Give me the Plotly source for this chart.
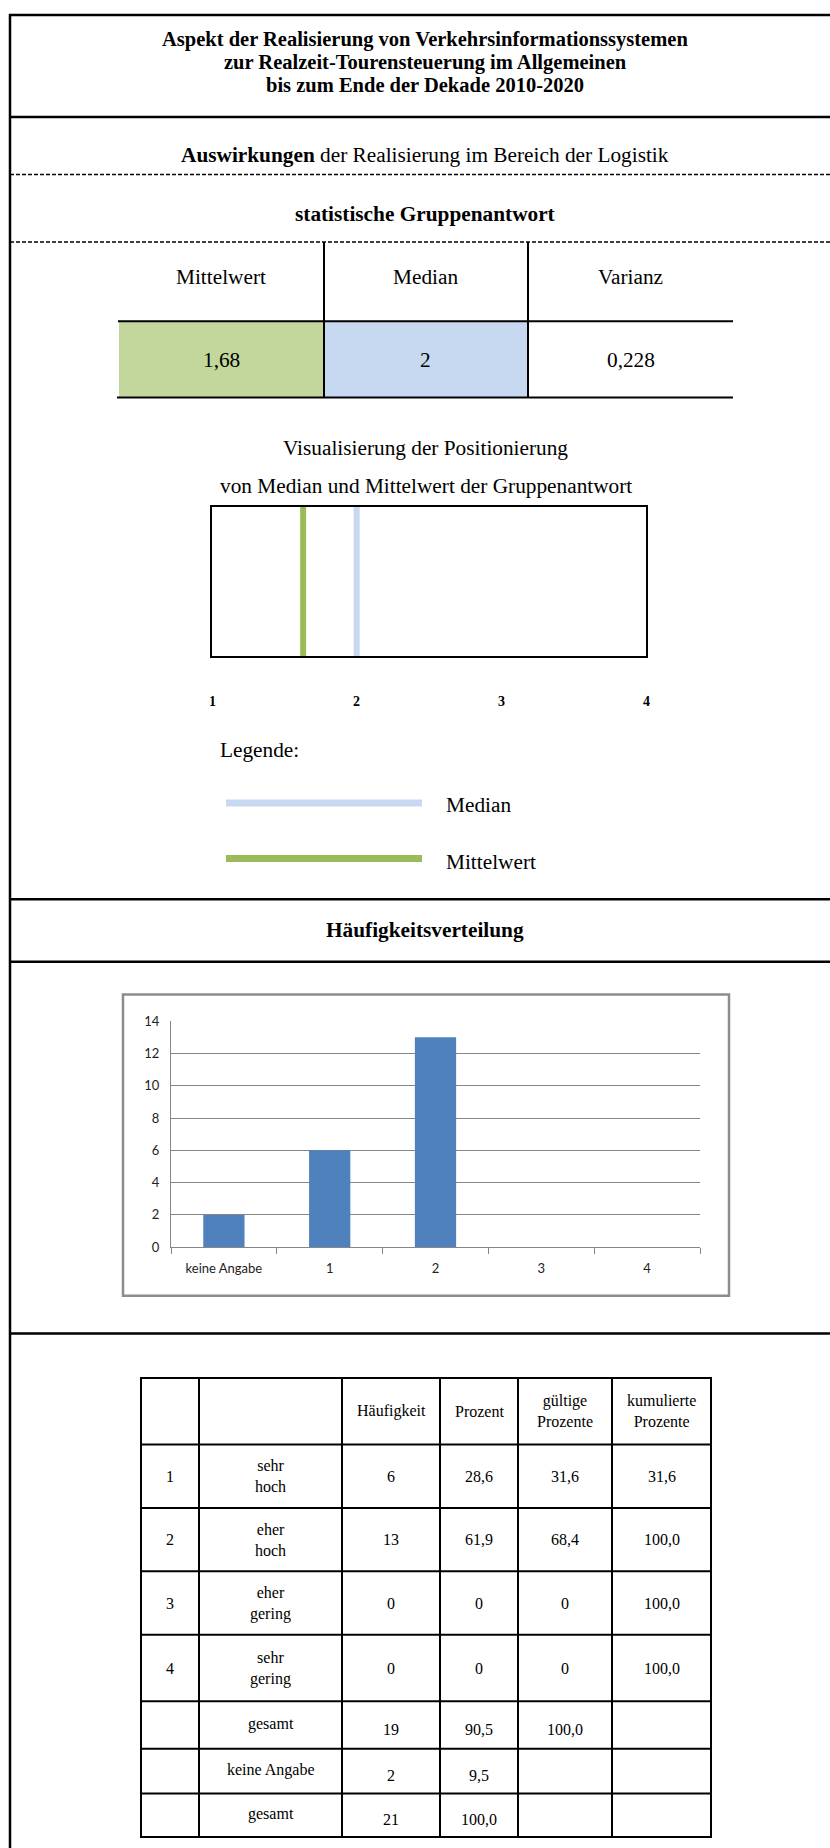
import plotly.graph_objects as go

# ---------------- data ----------------
title_lines = ["Aspekt der Realisierung von Verkehrsinformationssystemen",
               "zur Realzeit-Tourensteuerung im Allgemeinen",
               "bis zum Ende der Dekade 2010-2020"]
stat_names = ["Mittelwert", "Median", "Varianz"]
stat_texts = ["1,68", "2", "0,228"]
mean_marker = 1.63      # position of the green mean line as drawn in the picture
median_marker = 2.0     # position of the blue median line
scale_ticks = [1, 2, 3, 4]

categories = ["keine Angabe", "1", "2", "3", "4"]
counts = [2, 6, 13, 0, 0]

table_header = ["", "", "Häufigkeit", "Prozent", "gültige<br>Prozente", "kumulierte<br>Prozente"]
codes = ["1", "2", "3", "4", "", "", ""]
answer_labels = ["sehr<br>hoch", "eher<br>hoch", "eher<br>gering", "sehr<br>gering",
                 "gesamt", "keine Angabe", "gesamt"]
haeufigkeit = ["6", "13", "0", "0", "19", "2", "21"]
prozent = ["28,6", "61,9", "0", "0", "90,5", "9,5", "100,0"]
gueltige = ["31,6", "68,4", "0", "0", "100,0", "", ""]
kumuliert = ["31,6", "100,0", "100,0", "100,0", "", "", ""]

# ---------------- helpers ----------------
W, H = 830, 1848
def X(px): return px / W
def Y(py): return 1 - py / H

SERIF = "Liberation Serif, Times New Roman, serif"
GREEN = "#9BBB59"
GREEN_FILL = "#C3D69B"
BLUE = "#C6D9F1"
BLUE_FILL = "#C6D9F1"
FS = 21.3

shapes = []
annotations = []

def hline(y, x0, x1, width=2, color="black", dash=None):
    ln = dict(color=color, width=width)
    if dash:
        ln["dash"] = dash
    shapes.append(dict(type="line", xref="paper", yref="paper",
                       x0=X(x0), x1=X(x1), y0=Y(y), y1=Y(y), line=ln))

def vline(x, y0, y1, width=2, color="black"):
    shapes.append(dict(type="line", xref="paper", yref="paper",
                       x0=X(x), x1=X(x), y0=Y(y0), y1=Y(y1),
                       line=dict(color=color, width=width)))

def rect(x0, y0, x1, y1, fill=None, color=None, width=0):
    d = dict(type="rect", xref="paper", yref="paper", layer="below",
             x0=X(x0), x1=X(x1), y0=Y(y1), y1=Y(y0))
    if fill:
        d["fillcolor"] = fill
    d["line"] = dict(color=color or "rgba(0,0,0,0)", width=width)
    shapes.append(d)

def text(x, y, s, size=FS, bold=False, xanchor="center", family=SERIF, yshift=0):
    if bold:
        s = "<b>" + s + "</b>"
    annotations.append(dict(xref="paper", yref="paper", x=X(x), y=Y(y), text=s,
                            showarrow=False, xanchor=xanchor, yanchor="middle",
                            yshift=yshift,
                            font=dict(family=family, size=size, color="black")))

# ---------------- page frame ----------------
vline(10, 6, 1860, width=2.5)
hline(7, 9, 845, width=2.5)
hline(110, 10, 845, width=2.5)
hline(168, 10, 845, width=1.5, dash="4px,2px")
hline(236, 10, 845, width=1.5, dash="4px,2px")
hline(899, 10, 845, width=2.5)
hline(962, 10, 845, width=2.5)
hline(1337, 10, 845, width=2.5)

# title
for ty, line in zip([32, 55, 78], title_lines):
    text(425, ty, line, bold=True, size=20.5)
text(425, 148, "<b>Auswirkungen</b> der Realisierung im Bereich der Logistik")
text(425, 208, "statistische Gruppenantwort", bold=True)

# ---------------- stats table ----------------
col_edges = [118, 324, 528, 733]
rect(119, 316, 324, 393, fill=GREEN_FILL)
rect(324, 316, 528, 393, fill=BLUE_FILL)
hline(316, 118, 733, width=2)
hline(393, 117, 733, width=2)
vline(324, 236, 393, width=2)
vline(528, 236, 393, width=2)
for i in range(3):
    cx = (col_edges[i] + col_edges[i + 1]) / 2
    text(cx, 271, stat_names[i])
    text(cx, 355, stat_texts[i])

text(426, 444, "Visualisierung der Positionierung")
text(426, 482, "von Median und Mittelwert der Gruppenantwort")

# ---------------- legend ----------------
text(218, 748, "Legende:", xanchor="left")
shapes.append(dict(type="line", xref="paper", yref="paper", x0=X(226), x1=X(422),
                   y0=Y(802), y1=Y(802), line=dict(color=BLUE, width=7)))
shapes.append(dict(type="line", xref="paper", yref="paper", x0=X(226), x1=X(422),
                   y0=Y(858), y1=Y(858), line=dict(color=GREEN, width=7)))
text(444, 804, "Median", xanchor="left")
text(444, 861, "Mittelwert", xanchor="left")

text(425, 930, "Häufigkeitsverteilung", bold=True)

# ---------------- bar chart frame ----------------
rect(123, 995, 729, 1299, color="#8C8C8C", width=2.5)

# ---------------- frequency table ----------------
tcols = [141, 199, 342, 440, 518, 612, 711]
trows = [1382, 1449, 1513, 1577, 1641, 1708, 1756, 1801, 1845]
for yy in trows:
    hline(yy, tcols[0] - 1, tcols[-1] + 1, width=2)
for xx in tcols:
    vline(xx, trows[0] - 1, trows[-1] + 1, width=2)

TS = 16
for j, h in enumerate(table_header):
    if h:
        cx = (tcols[j] + tcols[j + 1]) / 2
        text(cx, (trows[0] + trows[1]) / 2, h, size=TS)

columns = [codes, answer_labels, haeufigkeit, prozent, gueltige, kumuliert]
for r in range(len(codes)):
    cy = (trows[r + 1] + trows[r + 2]) / 2
    for j, col in enumerate(columns):
        v = col[r]
        if v == "":
            continue
        cx = (tcols[j] + tcols[j + 1]) / 2
        shift = 0
        if r >= 4:
            shift = 1 if j == 1 else -4
        text(cx, cy, v, size=TS, yshift=shift)

# ---------------- figure ----------------
fig = go.Figure()

fig.add_trace(go.Bar(x=categories, y=counts, marker=dict(color="#4F81BD", line=dict(width=0)),
                     xaxis="x", yaxis="y", hoverinfo="skip"))

fig.add_trace(go.Scatter(x=[mean_marker, mean_marker], y=[0, 1], mode="lines",
                         line=dict(color=GREEN, width=6), xaxis="x2", yaxis="y2",
                         hoverinfo="skip"))
fig.add_trace(go.Scatter(x=[median_marker, median_marker], y=[0, 1], mode="lines",
                         line=dict(color=BLUE, width=6), xaxis="x2", yaxis="y2",
                         hoverinfo="skip"))

for t in scale_ticks:
    annotations.append(dict(xref="x2", yref="paper", x=t, y=Y(700), text="<b>%d</b>" % t,
                            showarrow=False, xanchor="center", yanchor="middle",
                            font=dict(family=SERIF, size=14, color="black")))

GRAY = "#868686"
TICKFONT = dict(family="Lato, Liberation Sans, sans-serif", size=13, color="#222")
fig.update_layout(
    width=W, height=H, margin=dict(l=0, r=0, t=0, b=0),
    paper_bgcolor="white", plot_bgcolor="white", showlegend=False,
    bargap=0.61,
    xaxis=dict(domain=[X(171), X(700)], anchor="y", type="category",
               showline=True, linecolor=GRAY, linewidth=1,
               ticks="outside", tickson="boundaries", ticklen=6, tickcolor=GRAY,
               ticklabelstandoff=9,
               tickfont=TICKFONT, showgrid=False, zeroline=False, fixedrange=True),
    yaxis=dict(domain=[Y(1250), Y(1022)], anchor="x", range=[0, 14], dtick=2,
               showgrid=True, gridcolor=GRAY, gridwidth=1,
               showline=True, linecolor=GRAY, linewidth=1,
               ticks="", ticklabelstandoff=8,
               tickfont=TICKFONT, zeroline=False, fixedrange=True),
    xaxis2=dict(domain=[X(212), X(646)], anchor="y2", range=[1, 4],
                showline=True, mirror=True, linecolor="black", linewidth=2,
                showticklabels=False, ticks="", showgrid=False, zeroline=False, fixedrange=True),
    yaxis2=dict(domain=[Y(654), Y(503)], anchor="x2", range=[0, 1],
                showline=True, mirror=True, linecolor="black", linewidth=2,
                showticklabels=False, ticks="", showgrid=False, zeroline=False, fixedrange=True),
    shapes=shapes,
    annotations=annotations,
)

fig.write_html("out.html", config={"displayModeBar": False},
               post_script="document.body.style.margin='0px';")
